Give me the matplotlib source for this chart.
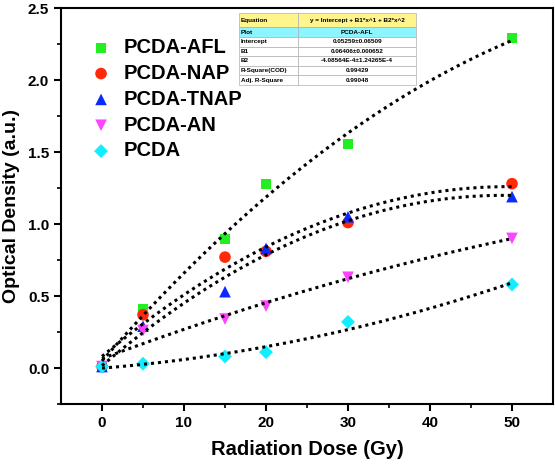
import matplotlib.pyplot as plt
import numpy as np

plt.rcParams['font.family'] = 'Liberation Sans'
plt.rcParams['font.weight'] = 'bold'

dose = [0, 5, 15, 20, 30, 50]
od_afl = [0.01, 0.41, 0.895, 1.28, 1.555, 2.29]
od_nap = [0.01, 0.37, 0.77, 0.81, 1.01, 1.28]
od_tnap = [0.01, 0.29, 0.53, 0.83, 1.05, 1.19]
od_an = [0.01, 0.26, 0.34, 0.43, 0.63, 0.90]
od_pcda = [0.01, 0.03, 0.08, 0.11, 0.32, 0.58]

labels = ['PCDA-AFL', 'PCDA-NAP', 'PCDA-TNAP', 'PCDA-AN', 'PCDA']
series = [od_afl, od_nap, od_tnap, od_an, od_pcda]
markers = ['s', 'o', '^', 'v', 'D']
colors = ['#22ee22', '#ff2a0a', '#0a2aff', '#ff44ff', '#11eeff']
sizes = [55, 70, 70, 70, 50]

table_rows = [
    ['Equation', 'y = Intercept + B1*x^1 + B2*x^2'],
    ['Plot', 'PCDA-AFL'],
    ['Intercept', '0.05259\u00b10.06509'],
    ['B1', '0.06406\u00b10.000652'],
    ['B2', '-4.08564E-4\u00b11.24265E-4'],
    ['R-Square(COD)', '0.99429'],
    ['Adj. R-Square', '0.99048'],
]

fig = plt.figure(figsize=(5.55, 4.69), dpi=100)
ax = fig.add_axes([61 / 555, 1 - 404 / 469, 492 / 555, 396 / 469])

xs = np.linspace(0, 50, 200)
for y, lab, m, c, s in zip(series, labels, markers, colors, sizes):
    ax.scatter(dose, y, marker=m, color=c, s=s, label=lab, zorder=2, edgecolors='none')
    # quadratic fit, like the Origin fit
    p = np.polyfit(dose, y, 2)
    ax.plot(xs, np.polyval(p, xs), color='black', linestyle=(0, (1, 1.3)), lw=2.2, zorder=3)

ax.set_xlim(-5, 55)
ax.set_ylim(-0.25, 2.5)
ax.set_xticks(np.arange(0, 51, 10))
ax.set_xticks(np.arange(0, 55, 5), minor=True)
ax.set_yticks(np.arange(0, 2.51, 0.5))
ax.set_yticks(np.arange(-0.25, 2.5, 0.25), minor=True)
ax.yaxis.set_major_formatter(plt.FormatStrFormatter('%.1f'))
ax.tick_params(which='major', direction='out', length=5, width=1.5, labelsize=11)
ax.tick_params(which='minor', direction='out', length=3, width=1.2)
for sp in ax.spines.values():
    sp.set_linewidth(1.5)

ax.set_xlabel('Radiation Dose (Gy)', fontsize=14.5, fontweight='bold', labelpad=7)
ax.set_ylabel('Optical Density (a.u.)', fontsize=14, fontweight='bold', labelpad=6)

leg = ax.legend(loc='upper left', bbox_to_anchor=(0.02, 0.97), frameon=False,
                prop={'size': 14.5, 'weight': 'bold'}, handletextpad=0.5,
                labelspacing=0.34, handlelength=1.2, scatterpoints=1)

# fit result table
tax = fig.add_axes([239 / 555, 1 - 85 / 469, 177 / 555, 72 / 469])
tax.axis('off')
tbl = tax.table(cellText=table_rows, bbox=[0, 0, 1, 1], colWidths=[0.335, 0.665],
                cellLoc='center')
tbl.auto_set_font_size(False)
tbl.set_fontsize(4.6)
for (r, c), cell in tbl.get_celld().items():
    cell.set_edgecolor('#b0b0b0')
    cell.set_linewidth(0.5)
    cell.get_text().set_fontweight('bold')
    if c == 0:
        cell.get_text().set_ha('left')
        cell.PAD = 0.03
    if r == 0:
        cell.set_facecolor('#fff58c')
        cell.set_height(cell.get_height() * 1.5)
    elif r == 1:
        cell.set_facecolor('#8cf5ff')

fig.savefig('out.png', dpi=100)
